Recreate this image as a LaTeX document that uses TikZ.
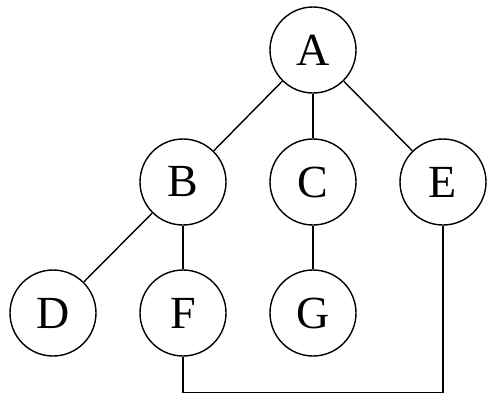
\documentclass[tikz,border=0pt]{standalone}
\usepackage{fontspec}
\setmainfont{Liberation Serif}
\begin{document}
\begin{tikzpicture}[x=1pt,y=-1pt,
    vertex/.style={draw,circle,line width=1.4pt,minimum size=86pt,inner sep=0pt,
                   font=\fontsize{46}{50}\selectfont},
    link/.style={line width=1.4pt}]
    % Frame
    \useasboundingbox (0,0) rectangle (500,405);

    % Vertices
    \node[vertex] (A) at (313,50) {A};
    \node[vertex] (B) at (183,182) {B};
    \node[vertex] (C) at (313,182) {C};
    \node[vertex] (E) at (443,182) {E};
    \node[vertex] (D) at (53,313) {D};
    \node[vertex] (F) at (183,313) {F};
    \node[vertex] (G) at (313,313) {G};

    % Edges
    \draw[link] (A) -- (B);
    \draw[link] (A) -- (C);
    \draw[link] (A) -- (E);
    \draw[link] (B) -- (D);
    \draw[link] (B) -- (F);
    \draw[link] (C) -- (G);
    \draw[link] (F.south) -- ++(0,36) -| (E.south);
\end{tikzpicture}
\end{document}
